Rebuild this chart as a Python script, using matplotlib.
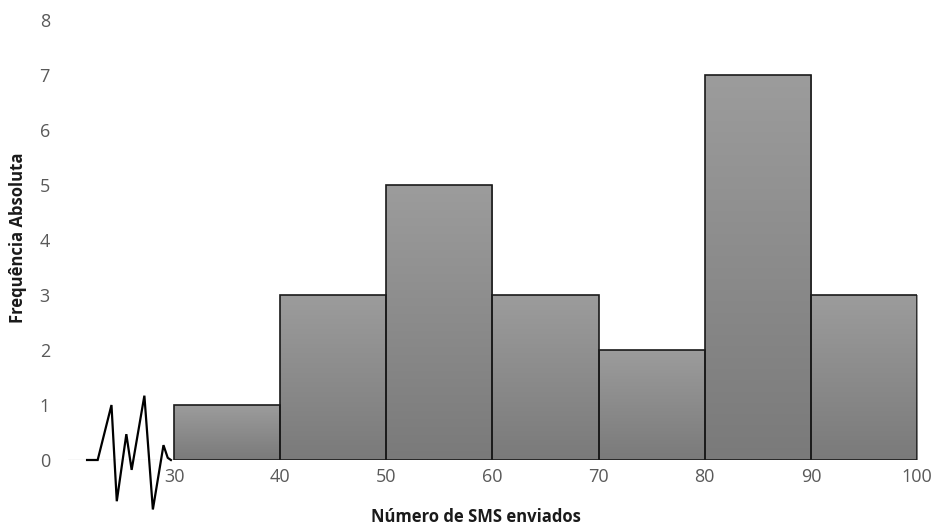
import numpy as np
import matplotlib
matplotlib.use("Agg")
import matplotlib.pyplot as plt
from matplotlib.patches import Rectangle

# Class limits and absolute frequencies
bin_edges = [30, 40, 50, 60, 70, 80, 90, 100]
frequencies = [1, 3, 5, 3, 2, 7, 3]
x_ticks = [30, 40, 50, 60, 70, 80, 90, 100]
y_ticks = [0, 1, 2, 3, 4, 5, 6, 7, 8]

plt.rcParams['font.family'] = ['Open Sans', 'DejaVu Sans']

fig = plt.figure(figsize=(9.31, 5.28), dpi=100)
ax = fig.add_axes([0.073, 0.1288, 0.912, 0.833])

# vertical grey gradient, lighter at the top of every bar
grad = np.linspace(0, 1, 256).reshape(-1, 1)
cmap = matplotlib.colors.LinearSegmentedColormap.from_list(
    "bar", ["#7a7a7a", "#9c9c9c"])

ax.axhline(0, xmin=0, xmax=1, color="#d9d9d9", lw=1.0, zorder=1)

for left, right, f in zip(bin_edges[:-1], bin_edges[1:], frequencies):
    ax.imshow(grad, extent=(left, right, 0, f), origin="lower",
              cmap=cmap, aspect="auto", zorder=2, interpolation="bilinear")
    ax.add_patch(Rectangle((left, 0), right - left, f, fill=False,
                           edgecolor="#1a1a1a", lw=1.2, zorder=3))

ax.set_xlim(20, 100)
ax.set_ylim(0, 8)

# axis break symbol between the origin and the first class
zig_x = [0.18, 0.28, 0.41, 0.46, 0.55, 0.60, 0.72, 0.80, 0.90, 0.94, 0.97]
zig_y = [0.0, 0.0, 1.0, -0.75, 0.47, -0.18, 1.17, -0.9, 0.27, 0.04, 0.0]
ax.plot([20 + 10 * v for v in zig_x], zig_y, color="black", lw=1.6,
        clip_on=False, zorder=4, solid_joinstyle="miter")

for s in ax.spines.values():
    s.set_visible(False)

ax.set_xticks(x_ticks)
ax.set_yticks(y_ticks)
ax.tick_params(length=0, labelsize=13, labelcolor="#595959")
ax.tick_params(axis="x", pad=6)
ax.tick_params(axis="y", pad=13)
for lab in ax.get_xticklabels():
    lab.set_horizontalalignment("center")

fig.text(476 / 931, 1 - 517 / 528, "Número de SMS enviados", fontsize=12,
         fontweight="bold", color="#1a1a1a", ha="center", va="center")
fig.text(18 / 931, 1 - 238 / 528, "Frequência Absoluta", fontsize=12,
         fontweight="bold", color="#1a1a1a", ha="center", va="center",
         rotation=90)

fig.savefig("out.png", dpi=100, facecolor="white")
